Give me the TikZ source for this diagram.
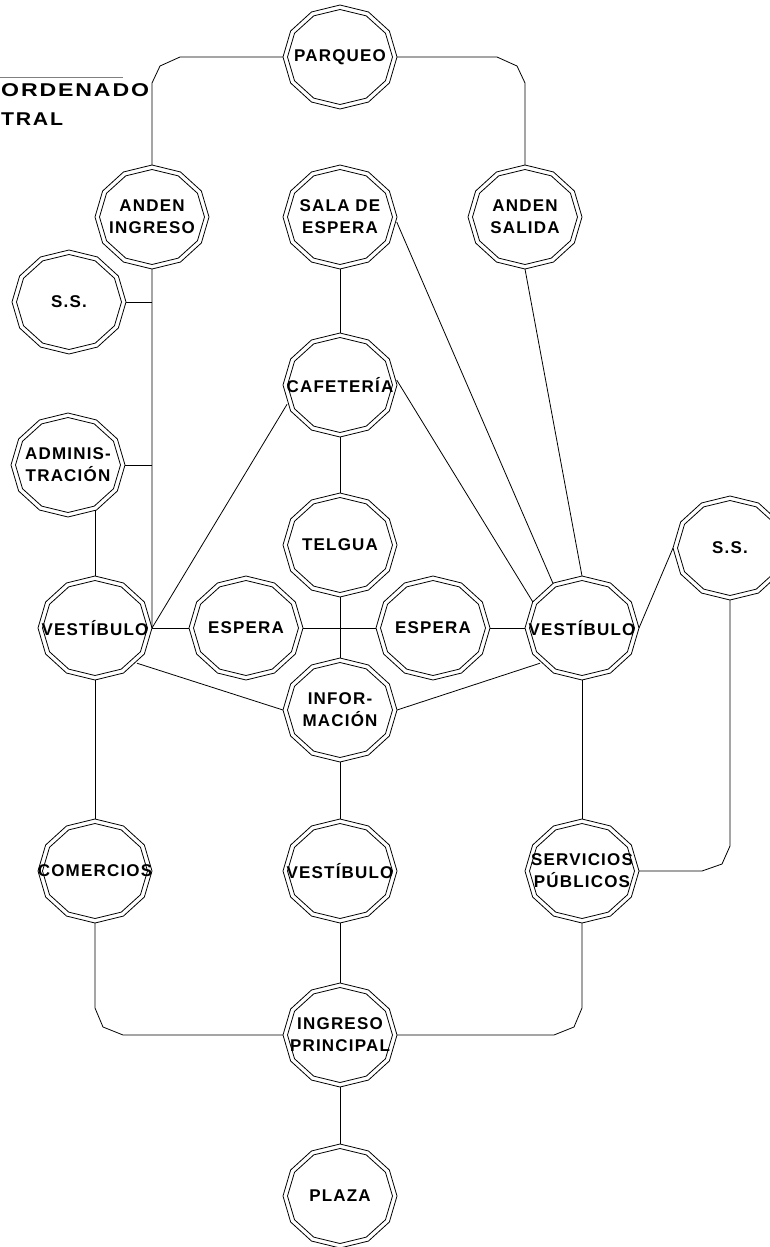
\documentclass[tikz,border=0pt]{standalone}
\usepackage{fontspec}
\setmainfont{Liberation Sans}[LetterSpace=7]
\newfontfamily\titlefont{Liberation Sans Bold}[LetterSpace=8]
\usetikzlibrary{shapes.geometric,calc}

\tikzset{
  stn/.style={ellipse, minimum width=114bp, minimum height=104bp,
              inner sep=0pt, outer sep=0pt, draw=none},
  stnline/.style={line width=0.8bp, black, line join=miter},
  stnlabel/.style={align=center, inner sep=0pt,
                   font=\bfseries\fontsize{17bp}{22bp}\selectfont},
  link/.style={line width=0.8bp, black},
  titletext/.style={inner sep=0pt, font=\titlefont\fontsize{18.5bp}{21bp}\selectfont},
}

% station: double twelve-sided outline with a bold label inside
\newcommand\stationnode[4][]{%
  \node[stn] (#2) at (#3) {};
  \draw[stnline] ($(#2.center)+(0:57 and 52)$)
    \foreach \a in {30,60,...,330}{ -- ($(#2.center)+(\a:57 and 52)$)} -- cycle;
  \draw[stnline] ($(#2.center)+(0:52.5 and 47.5)$)
    \foreach \a in {30,60,...,330}{ -- ($(#2.center)+(\a:52.5 and 47.5)$)} -- cycle;
  \node[stnlabel,#1] (#2-t) at (#2.center) {#4};
}

\begin{document}
\begin{tikzpicture}[x=1bp, y=-1bp]
\clip (0,0) rectangle (770,1247);
\fill[white] (0,0) rectangle (770,1247);

% heading fragment
\coordinate (hl-a) at (0,77);
\coordinate (hl-b) at (123,77);
\draw[line width=0.8bp, gray] (hl-a) -- (hl-b);
\node[titletext, anchor=west] (title1) at (1,90) {\scalebox{1.25}[1]{ORDENADO}};
\node[titletext, anchor=west] (title2) at (1,119.5) {\scalebox{1.15}[1]{TRAL}};

% stations
\stationnode{parq}{340,57}{PARQUEO}
\stationnode{ai}{152,217}{ANDEN\\INGRESO}
\stationnode{sala}{340,217}{SALA DE\\ESPERA}
\stationnode{as}{525,217}{ANDEN\\SALIDA}
\stationnode{ssl}{69,302}{S.S.}
\stationnode{caf}{340,385}{CAFETERÍA}
\stationnode{adm}{68,465}{ADMINIS-\\TRACIÓN}
\stationnode{tel}{340,545}{TELGUA}
\stationnode{ssr}{730,548}{S.S.}
\stationnode{vl}{95,628}{VESTÍBULO}
\stationnode{el}{246,628}{ESPERA}
\stationnode{er}{433,628}{ESPERA}
\stationnode{vr}{582,628}{VESTÍBULO}
\stationnode{info}{340,710}{INFOR-\\MACIÓN}
\stationnode{com}{95,871}{COMERCIOS}
\stationnode{vm}{340,871}{VESTÍBULO}
\stationnode{serv}{582,871}{SERVICIOS\\PÚBLICOS}
\stationnode{ing}{340,1035}{INGRESO\\PRINCIPAL}
\stationnode{plaza}{340,1196}{PLAZA}

% parking to platforms
\draw[link] (parq.west) -- ($(ai.north |- parq.west)+(28,0)$)
  -- ($(ai.north |- parq.west)+(8,9)$) -- ($(ai.north |- parq.west)+(0,26)$) -- (ai.north);
\draw[link] (parq.east) -- ($(as.north |- parq.east)+(-28,0)$)
  -- ($(as.north |- parq.east)+(-8,9)$) -- ($(as.north |- parq.east)+(0,26)$) -- (as.north);

% left spine
\draw[link] (ai.south) -- (vl.east);
\draw[link] (ssl.east) -- (ssl.east -| ai.south);
\draw[link] (adm.east) -- (adm.east -| ai.south);
\draw[link] (vl.north) -- ++(0,-66);
\draw[link] (vl.east) -- (el.west);
\draw[link] (vl.east) -- (caf.200);

% centre column
\draw[link] (sala.south) -- (caf.north);
\draw[link] (caf.south) -- (tel.north);
\draw[link] (tel.south) -- (info.north);
\draw[link] (el.east) -- (er.west);
\draw[link] (er.east) -- (vr.west);
\draw[link] (info.south) -- (vm.north);
\draw[link] (vm.south) -- (ing.north);
\draw[link] (ing.south) -- (plaza.north);

% right hall
\draw[link] (sala.-5) -- (vr.123);
\draw[link] (caf.5) -- (vr.152);
\draw[link] (as.south) -- (vr.north);
\draw[link] (vr.east) -- (ssr.west);

% halls to information
\draw[link] (vl.-40) -- (info.west);
\draw[link] (vr.220) -- (info.east);

% lower level
\draw[link] (vl.south) -- (com.north);
\draw[link] (vr.south) -- (serv.north);
\draw[link] (ssr.south) -- ($(ssr.south |- serv.east)+(0,-25)$)
  -- ($(ssr.south |- serv.east)+(-8,-7)$) -- ($(ssr.south |- serv.east)+(-28,0)$) -- (serv.east);
\draw[link] (com.south) -- ($(com.south |- ing.west)+(0,-27)$)
  -- ($(com.south |- ing.west)+(8,-8)$) -- ($(com.south |- ing.west)+(28,0)$) -- (ing.west);
\draw[link] (serv.south) -- ($(serv.south |- ing.east)+(0,-27)$)
  -- ($(serv.south |- ing.east)+(-8,-8)$) -- ($(serv.south |- ing.east)+(-28,0)$) -- (ing.east);
\end{tikzpicture}
\end{document}
